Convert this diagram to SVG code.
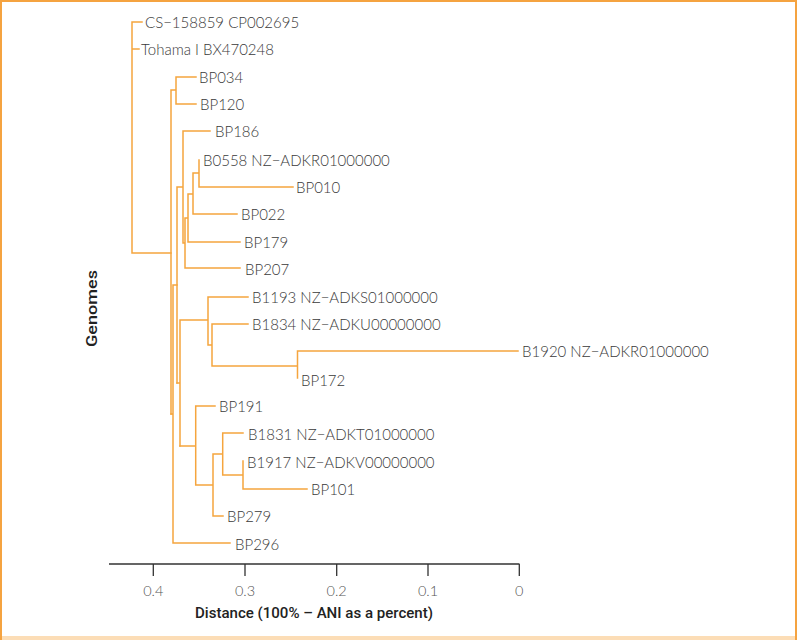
<svg xmlns="http://www.w3.org/2000/svg" width="797" height="640" viewBox="0 0 797 640">
<style>
.br{fill:none;stroke:#F5A53E;stroke-width:1.5;stroke-linecap:square}
.lb{font-family:Lato,"Liberation Sans",sans-serif;font-weight:300;font-size:15px;fill:#3a3a3a}
.tk{font-family:Lato,"Liberation Sans",sans-serif;font-weight:300;font-size:14.5px;fill:#555;text-anchor:middle}
.ax{fill:none;stroke:#333;stroke-width:1.3}
.tt{font-family:Roboto,"Liberation Sans",sans-serif;font-weight:500;font-size:15px;fill:#222}
</style>
<rect x="0" y="0" width="797" height="640" fill="#fff"/>
<rect x="0" y="636" width="797" height="4" fill="#FCDDB6"/>
<rect x="0" y="0" width="797" height="2" fill="#F5A340"/>
<rect x="0" y="0" width="2" height="640" fill="#F5A340"/>
<rect x="795" y="0" width="2" height="640" fill="#F5A340"/>
<g id="connectors">
<path class="br" d="M132,22V253M132,22H142M132,49H139M132,253H171"/>
<path class="br" d="M171,90V414M171,90H176M176,77V104M176,77H196M176,104H196"/>
<path class="br" d="M171,414H173M173,285V543M173,285H177M173,543H230"/>
<path class="br" d="M177,187V383M177,187H183M183,131V243M183,131H210M183,243H185M185,218V268M185,268H240M185,218H188M188,194V242M188,242H240M188,194H193M193,173V214M193,214H237M193,173H199M199,160V187M199,187H293"/>
<path class="br" d="M177,383H180M180,320V446M180,320H208M208,297V345M208,297H248M208,345H212M212,324V366M212,324H248M212,366H297.5M297.5,351V378M297.5,351H518"/>
<path class="br" d="M180,446H195.7M195.7,406V485M195.7,406H215M195.7,485H213M213,454V516M213,516H223M213,454H222.7M222.7,433V475M222.7,433H243M222.7,475H243M243,461V489M243,489H307"/>
</g>
<g id="n-cs"><text class="lb" x="145" y="27.5">CS−158859 CP002695</text></g>
<g id="n-tohama"><text class="lb" x="141" y="54.5">Tohama I BX470248</text></g>
<g id="n-bp034"><text class="lb" x="199" y="82.5">BP034</text></g>
<g id="n-bp120"><text class="lb" x="200" y="109.5">BP120</text></g>
<g id="n-bp186"><text class="lb" x="215" y="136.5">BP186</text></g>
<g id="n-b0558"><text class="lb" x="203" y="165.5">B0558 NZ−ADKR01000000</text></g>
<g id="n-bp010"><text class="lb" x="296" y="192.5">BP010</text></g>
<g id="n-bp022"><text class="lb" x="241" y="219.5">BP022</text></g>
<g id="n-bp179"><text class="lb" x="244" y="247.5">BP179</text></g>
<g id="n-bp207"><text class="lb" x="245" y="274.5">BP207</text></g>
<g id="n-b1193"><text class="lb" x="252" y="302.5">B1193 NZ−ADKS01000000</text></g>
<g id="n-b1834"><text class="lb" x="252" y="329.5">B1834 NZ−ADKU00000000</text></g>
<g id="n-b1920"><text class="lb" x="522" y="356.5">B1920 NZ−ADKR01000000</text></g>
<g id="n-bp172"><text class="lb" x="301" y="385.5">BP172</text></g>
<g id="n-bp191"><text class="lb" x="219" y="411.5">BP191</text></g>
<g id="n-b1831"><text class="lb" x="248" y="439.5">B1831 NZ−ADKT01000000</text></g>
<g id="n-b1917"><text class="lb" x="247" y="467.5">B1917 NZ−ADKV00000000</text></g>
<g id="n-bp101"><text class="lb" x="311" y="494.5">BP101</text></g>
<g id="n-bp279"><text class="lb" x="227" y="521.5">BP279</text></g>
<g id="n-bp296"><text class="lb" x="235" y="549.5">BP296</text></g>
<g id="axis">
<path class="ax" d="M109,564H519.5M153.3,564V576M245,564V576M336.7,564V576M428,564V576M519.3,564V576"/>
<text class="tk" x="153.3" y="596">0.4</text>
<text class="tk" x="245" y="596">0.3</text>
<text class="tk" x="336.7" y="596">0.2</text>
<text class="tk" x="428" y="596">0.1</text>
<text class="tk" x="519.3" y="596">0</text>
<text class="tt" x="195" y="617.5" textLength="238" lengthAdjust="spacingAndGlyphs">Distance (100% – ANI as a percent)</text>
<text class="tt" x="97" y="347" font-weight="700" font-size="16" textLength="77" lengthAdjust="spacingAndGlyphs" transform="rotate(-90 97 347)">Genomes</text>
</g>
</svg>
